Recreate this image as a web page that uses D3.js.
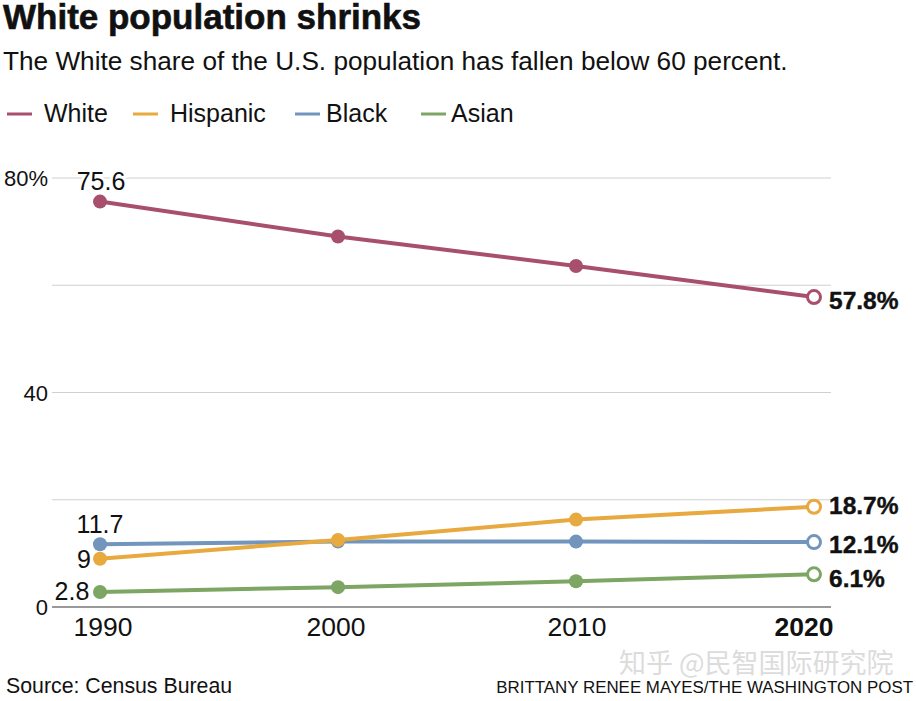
<!DOCTYPE html>
<html>
<head>
<meta charset="utf-8">
<script src="https://cdn.jsdelivr.net/npm/d3@7"></script>
<style>
  html, body { margin: 0; padding: 0; background: #fff; }
  text { font-family: "Liberation Sans", sans-serif; fill: #111; }
</style>
</head>
<body>
<div id="app"></div>
<script>
const width = 916;
const height = 701;

const years = [1990, 2000, 2010, 2020];
const yTicks = [0, 20, 40, 60, 80];
const yTickLabels = ['0', '', '40', '', '80%'];

const white = [75.6, 69.1, 63.6, 57.8];
const hispanic = [9, 12.5, 16.3, 18.7];
const black = [11.7, 12.2, 12.2, 12.1];
const asian = [2.8, 3.7, 4.8, 6.1];

const seriesNames = ['White', 'Hispanic', 'Black', 'Asian'];
const seriesColors = ['#a94f6e', '#e8a93f', '#7295bd', '#7da563'];
const seriesValues = [white, hispanic, black, asian];
// draw order, black goes under hispanic at 2000
const drawOrder = [0, 2, 1, 3];

const startLabels = ['75.6', '9', '11.7', '2.8'];
const endLabels = ['57.8%', '18.7%', '12.1%', '6.1%'];

const legendX = [7, 133, 295, 421];
const legendTextX = [44, 170, 326, 451];
const yearNudge = [3, -2, 1, -10];

let svg = d3.select('#app').append('svg')
  .attr('width', width)
  .attr('height', height)
  .style('display', 'block');

const x = d3.scaleLinear().domain([1990, 2020]).range([100, 814]);
const y = d3.scaleLinear().domain([0, 80]).range([607, 178]);

// title block
svg.append('text').attr('x', 3).attr('y', 29)
  .attr('font-size', 35).attr('font-weight', 700)
  .attr('stroke', '#111').attr('stroke-width', 0.6)
  .text('White population shrinks');

svg.append('text').attr('x', 3).attr('y', 70)
  .attr('font-size', 26.2)
  .text('The White share of the U.S. population has fallen below 60 percent.');

// legend
seriesNames.forEach((name, i) => {
  svg.append('line')
    .attr('x1', legendX[i]).attr('x2', legendX[i] + 25)
    .attr('y1', 114).attr('y2', 114)
    .attr('stroke', seriesColors[i]).attr('stroke-width', 3);
  svg.append('text')
    .attr('x', legendTextX[i]).attr('y', 122)
    .attr('font-size', 25)
    .text(name);
});

// grid
svg.append('g').selectAll('line')
  .data(yTicks)
  .join('line')
  .attr('x1', 52).attr('x2', 831)
  .attr('y1', d => y(d)).attr('y2', d => y(d))
  .attr('stroke', d => d === 0 ? '#999' : '#d0d0d0')
  .attr('stroke-width', d => d === 0 ? 2 : 1.2);

svg.append('g').selectAll('text')
  .data(yTicks)
  .join('text')
  .attr('x', 48)
  .attr('y', d => y(d) + 8)
  .attr('text-anchor', 'end')
  .attr('font-size', 22)
  .text((d, i) => yTickLabels[i]);

// x labels
svg.append('g').selectAll('text')
  .data(years)
  .join('text')
  .attr('x', (d, i) => x(d) + yearNudge[i])
  .attr('y', 636)
  .attr('text-anchor', 'middle')
  .attr('font-size', 26.5)
  .attr('font-weight', d => d === 2020 ? 700 : 400)
  .text(d => d);

// lines and points
const line = d3.line()
  .x((d, i) => x(years[i]))
  .y(d => y(d));

drawOrder.forEach(s => {
  const g = svg.append('g');
  g.append('path')
    .attr('d', line(seriesValues[s]))
    .attr('fill', 'none')
    .attr('stroke', seriesColors[s])
    .attr('stroke-width', 4);
  g.selectAll('circle')
    .data(seriesValues[s])
    .join('circle')
    .attr('cx', (d, i) => x(years[i]))
    .attr('cy', d => y(d))
    .attr('r', (d, i) => i === 3 ? 6.5 : 7)
    .attr('fill', (d, i) => i === 3 ? '#fff' : seriesColors[s])
    .attr('stroke', seriesColors[s])
    .attr('stroke-width', (d, i) => i === 3 ? 3 : 0);
});

// start value labels
const startPos = [[101, 190], [84, 568], [100, 533], [72, 600]];
seriesNames.forEach((name, i) => {
  svg.append('text')
    .attr('x', startPos[i][0]).attr('y', startPos[i][1])
    .attr('text-anchor', 'middle')
    .attr('font-size', 25)
    .attr('stroke', '#fff').attr('stroke-width', 5)
    .attr('paint-order', 'stroke')
    .text(startLabels[i]);
});

// end value labels
const endY = [309, 514, 553, 587];
seriesNames.forEach((name, i) => {
  svg.append('text')
    .attr('x', 829).attr('y', endY[i])
    .attr('font-size', 24.5).attr('font-weight', 700)
    .attr('stroke', '#111').attr('stroke-width', 0.4)
    .text(endLabels[i]);
});

// footer
svg.append('text').attr('x', 6).attr('y', 693)
  .attr('font-size', 21.3)
  .text('Source: Census Bureau');

svg.append('text').attr('x', 913).attr('y', 693)
  .attr('text-anchor', 'end')
  .attr('font-size', 16.9)
  .text('BRITTANY RENEE MAYES/THE WASHINGTON POST');

// watermark
svg.append('text').attr('x', 619).attr('y', 673)
  .attr('font-size', 27)
  .style('font-family', '"Noto Sans CJK SC", sans-serif')
  .style('fill', '#dcdcdc')
  .text('知乎 @民智国际研究院');
</script>
</body>
</html>
